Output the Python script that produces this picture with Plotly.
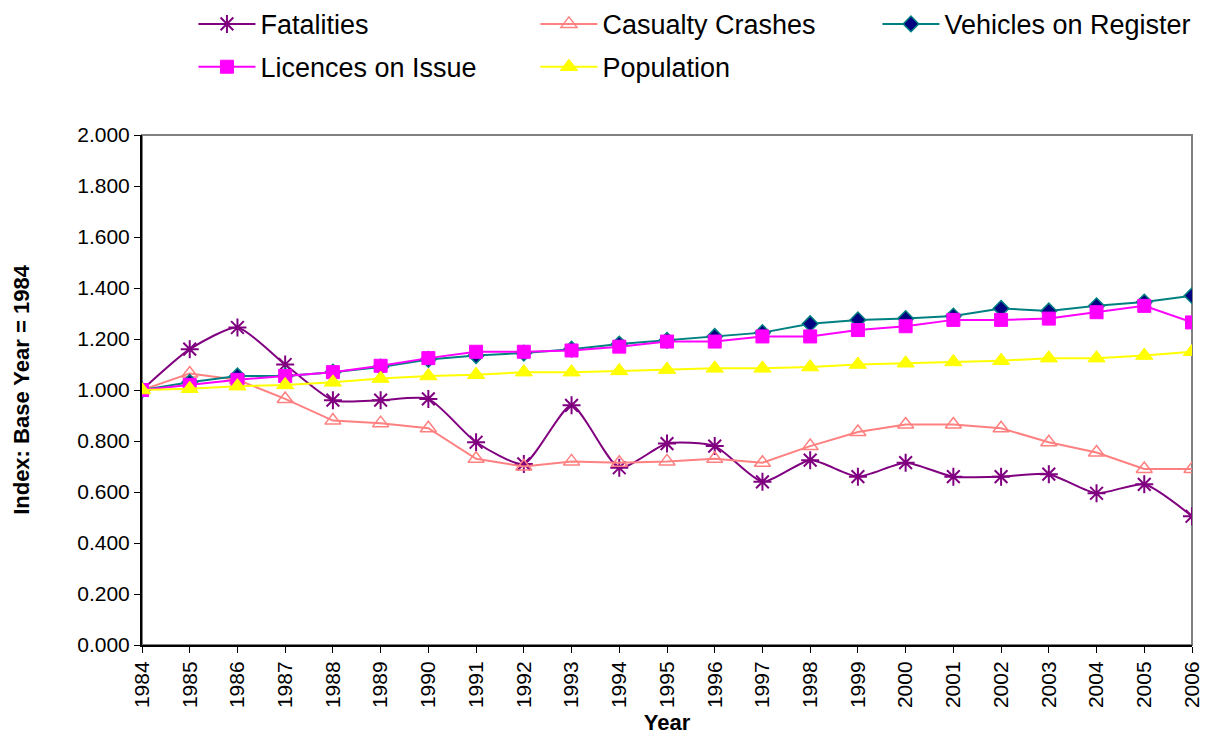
import plotly.graph_objects as go

years = list(range(1984, 2007))
fatalities = [1.000, 1.160, 1.245, 1.100, 0.960, 0.960, 0.965, 0.795, 0.710, 0.940, 0.695, 0.790,
              0.780, 0.640, 0.725, 0.660, 0.715, 0.660, 0.660, 0.670, 0.595, 0.630, 0.505]
casualty_crashes = [1.000, 1.065, 1.040, 0.965, 0.880, 0.870, 0.850, 0.730, 0.700, 0.720, 0.715, 0.720,
                    0.730, 0.715, 0.780, 0.835, 0.865, 0.865, 0.850, 0.795, 0.755, 0.690, 0.690]
vehicles = [1.000, 1.030, 1.055, 1.055, 1.070, 1.090, 1.120, 1.135, 1.145, 1.160, 1.180, 1.195,
            1.210, 1.225, 1.260, 1.275, 1.280, 1.290, 1.320, 1.310, 1.330, 1.345, 1.370]
licences = [1.000, 1.020, 1.040, 1.055, 1.070, 1.095, 1.125, 1.150, 1.150, 1.155, 1.170, 1.190,
            1.190, 1.210, 1.210, 1.235, 1.250, 1.275, 1.275, 1.280, 1.305, 1.330, 1.265]
population = [1.000, 1.005, 1.015, 1.020, 1.030, 1.045, 1.055, 1.060, 1.070, 1.070, 1.075, 1.080,
              1.085, 1.085, 1.090, 1.100, 1.105, 1.110, 1.115, 1.125, 1.125, 1.135, 1.150]
y_ticks = [0.0, 0.2, 0.4, 0.6, 0.8, 1.0, 1.2, 1.4, 1.6, 1.8, 2.0]

FONT = "Liberation Sans, Arial, sans-serif"

fig = go.Figure()
fig.add_trace(go.Scatter(x=years, y=fatalities, name="Fatalities", mode="lines+markers",
                         legend="legend",
                         line=dict(color="#800080", width=2, shape="spline", smoothing=0.6),
                         marker=dict(symbol="asterisk", size=15, color="#800080",
                                     line=dict(color="#800080", width=2))))
fig.add_trace(go.Scatter(x=years, y=casualty_crashes, name="Casualty Crashes", mode="lines+markers",
                         legend="legend",
                         line=dict(color="#FF8080", width=2),
                         marker=dict(symbol="triangle-up-open", size=14, color="#FF8080",
                                     line=dict(color="#FF8080", width=1.5))))
fig.add_trace(go.Scatter(x=years, y=vehicles, name="Vehicles on Register", mode="lines+markers",
                         legend="legend",
                         line=dict(color="#008080", width=2),
                         marker=dict(symbol="diamond", size=12, color="#000080",
                                     line=dict(color="#008080", width=1.5))))
fig.add_trace(go.Scatter(x=years, y=licences, name="Licences on Issue", mode="lines+markers",
                         legend="legend2",
                         line=dict(color="#FF00FF", width=2),
                         marker=dict(symbol="square", size=13, color="#FF00FF",
                                     line=dict(color="#FF00FF", width=1))))
fig.add_trace(go.Scatter(x=years, y=population, name="Population", mode="lines+markers",
                         legend="legend2",
                         line=dict(color="#FFFF00", width=2),
                         marker=dict(symbol="triangle-up", size=15, color="#FFFF00",
                                     line=dict(color="#FFFF00", width=1))))

fig.add_shape(type="rect", xref="paper", yref="paper", x0=0, x1=1, y0=0, y1=1,
              line=dict(color="#808080", width=2), layer="below")

legend_common = dict(orientation="h", xanchor="left", yanchor="middle",
                     entrywidth=270, entrywidthmode="pixels", itemwidth=57,
                     font=dict(size=27, family=FONT), traceorder="normal",
                     bgcolor="rgba(0,0,0,0)", borderwidth=0)

# page has an 8px body margin, so the figure is drawn 8px smaller and margins shifted
fig.update_layout(
    width=1202, height=732,
    margin=dict(l=134, r=18, t=127, b=95, autoexpand=False),
    paper_bgcolor="white", plot_bgcolor="white",
    font=dict(family=FONT, size=21, color="black"),
    legend=dict(x=0.049, y=1.217, **legend_common),
    legend2=dict(x=0.049, y=1.133, **legend_common),
    xaxis=dict(range=[1984, 2006], tickmode="array", tickvals=years,
               ticktext=[str(y) for y in years], tickangle=-90,
               showline=True, linecolor="black", linewidth=2, mirror=False,
               ticks="outside", ticklen=6, tickcolor="black", showgrid=False, zeroline=False,
               title=dict(text="<b>Year</b>", font=dict(size=22), standoff=7),
               tickfont=dict(size=21)),
    yaxis=dict(range=[0, 2.0], tickvals=y_ticks, tickformat=".3f",
               showline=True, linecolor="black", linewidth=2,
               ticks="outside", ticklen=6, tickcolor="black", showgrid=False, zeroline=False,
               title=dict(text="<b>Index: Base Year = 1984</b>", font=dict(size=22), standoff=42),
               tickfont=dict(size=21)),
    showlegend=True,
)

fig.write_html("out.html")
